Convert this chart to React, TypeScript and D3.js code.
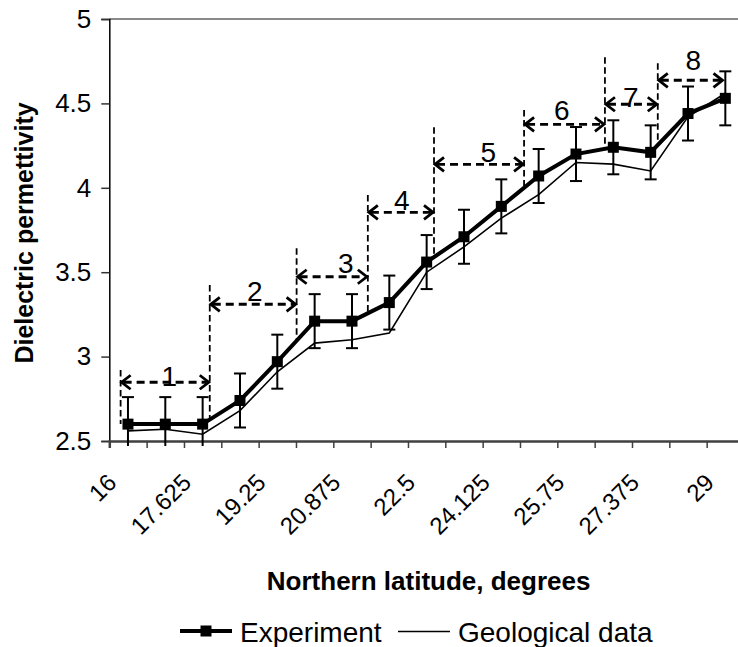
import React, { useEffect, useRef } from 'react';
import * as d3 from 'd3';

// categories (northern latitude, degrees) and tick labels shown every second category
const latitudes = [16, 16.8125, 17.625, 18.4375, 19.25, 20.0625, 20.875, 21.6875, 22.5, 23.3125, 24.125, 24.9375, 25.75, 26.5625, 27.375, 28.1875, 29];
const tickLabels = ['16', '17.625', '19.25', '20.875', '22.5', '24.125', '25.75', '27.375', '29'];
const yTicks = [2.5, 3, 3.5, 4, 4.5, 5];

// series
const experiment = [2.6, 2.6, 2.6, 2.74, 2.97, 3.21, 3.21, 3.32, 3.56, 3.71, 3.89, 4.07, 4.2, 4.24, 4.21, 4.44, 4.53];
const geological = [2.56, 2.57, 2.54, 2.68, 2.91, 3.08, 3.1, 3.14, 3.5, 3.65, 3.82, 3.96, 4.15, 4.14, 4.1, 4.42, 4.56];
const errorMargin = 0.16;

// zones 1..8 (latitude spans, arrow level, label position)
const zoneNames = ['1', '2', '3', '4', '5', '6', '7', '8'];
const zoneStart = [15.84, 17.78, 19.67, 21.22, 22.66, 24.62, 26.38, 27.53];
const zoneEnd = [17.78, 19.67, 21.22, 22.66, 24.62, 26.38, 27.53, 28.96];
const zoneArrowLevel = [2.848, 3.31, 3.473, 3.855, 4.139, 4.376, 4.495, 4.637];
const zoneLabelLat = [16.9, 18.76, 20.74, 21.96, 23.84, 25.44, 26.94, 28.3];
const zoneLabelLevel = [2.885, 3.389, 3.553, 3.928, 4.214, 4.461, 4.54, 4.757];
// dashed dividers: latitude and top value (they drop down to the experiment line)
const dividerLat = [15.84, 17.78, 19.67, 21.22, 22.66, 24.62, 26.38, 27.53];
const dividerTop = [2.92, 3.424, 3.642, 3.957, 4.358, 4.461, 4.773, 4.738];

const FONT = '"Liberation Sans", Arial, Helvetica, sans-serif';

export default function App() {
  const ref = useRef<SVGSVGElement | null>(null);

  useEffect(() => {
    drawChart();
  });

  function drawChart() {
    const width = 738;
    const height = 647;
    const left = 109.3;
    const right = 744;
    const top = 19;
    const bottom = 441;

    const svg = d3.select(ref.current);
    svg.selectAll('*').remove();

    const step = latitudes[1] - latitudes[0];
    const xScale = d3.scaleLinear()
      .domain([latitudes[0] - step / 2, latitudes[latitudes.length - 1] + step / 2])
      .range([left, right]);
    const yScale = d3.scaleLinear()
      .domain([2.5, 5])
      .range([bottom, top]);

    svg.append('rect').attr('width', width).attr('height', height).attr('fill', 'white');

    // plot border (top)
    svg.append('line')
      .attr('x1', left).attr('x2', right)
      .attr('y1', yScale(5)).attr('y2', yScale(5))
      .attr('stroke', '#8a8a8a').attr('stroke-width', 2);

    // y axis
    const yAxis = d3.axisLeft(yScale)
      .tickValues(yTicks)
      .tickSize(8)
      .tickPadding(3)
      .tickFormat((d: any) => String(d));
    const yg = svg.append('g').attr('transform', `translate(${left},0)`).call(yAxis);
    yg.select('.domain').attr('stroke', '#000').attr('stroke-width', 1.5);
    yg.selectAll('.tick line').attr('stroke', '#333').attr('stroke-width', 1.5);
    yg.selectAll('.tick text')
      .attr('font-family', FONT)
      .attr('font-size', 26)
      .attr('fill', '#000')
      .attr('x', -18);

    // x axis, ticks between categories
    const boundaries = latitudes.map(l => l - step / 2).concat([latitudes[latitudes.length - 1] + step / 2]);
    const xAxis = d3.axisBottom(xScale)
      .tickValues(boundaries)
      .tickSize(7)
      .tickFormat(() => '');
    const xg = svg.append('g').attr('transform', `translate(0,${bottom})`).call(xAxis);
    xg.select('.domain').attr('stroke', '#404040').attr('stroke-width', 2.5);
    xg.selectAll('.tick line').attr('stroke', '#404040').attr('stroke-width', 1.5);

    svg.append('g')
      .selectAll('text')
      .data(tickLabels)
      .enter()
      .append('text')
      .attr('transform', (d, i) => `translate(${xScale(latitudes[i * 2]) - 10},${bottom + 43}) rotate(-45)`)
      .attr('text-anchor', 'end')
      .attr('font-family', FONT)
      .attr('font-size', 24)
      .attr('fill', '#000')
      .text(d => d);

    // axis titles
    svg.append('text')
      .attr('transform', `translate(33,${(yScale(2.5) + yScale(5)) / 2 + 3}) rotate(-90)`)
      .attr('text-anchor', 'middle')
      .attr('font-family', FONT)
      .attr('font-weight', 'bold')
      .attr('font-size', 25)
      .text('Dielectric permettivity');

    svg.append('text')
      .attr('x', (left + right) / 2 + 2)
      .attr('y', 590)
      .attr('text-anchor', 'middle')
      .attr('font-family', FONT)
      .attr('font-weight', 'bold')
      .attr('font-size', 26)
      .text('Northern latitude, degrees');

    // experiment value at any latitude (for dividers)
    const expAt = (lat: number) => {
      if (lat <= latitudes[0]) return experiment[0];
      for (let i = 1; i < latitudes.length; i++) {
        if (lat <= latitudes[i]) {
          const t = (lat - latitudes[i - 1]) / (latitudes[i] - latitudes[i - 1]);
          return experiment[i - 1] + t * (experiment[i] - experiment[i - 1]);
        }
      }
      return experiment[experiment.length - 1];
    };

    // dashed dividers
    svg.append('g')
      .selectAll('line')
      .data(dividerLat)
      .enter()
      .append('line')
      .attr('x1', d => xScale(d)).attr('x2', d => xScale(d))
      .attr('y1', (d, i) => yScale(dividerTop[i]))
      .attr('y2', d => yScale(expAt(d)))
      .attr('stroke', '#000')
      .attr('stroke-width', 1.8)
      .attr('stroke-dasharray', '6.5,3.5');

    // dashed double arrows
    const arrows = svg.append('g');
    zoneNames.forEach((name, i) => {
      const x0 = xScale(zoneStart[i]);
      const x1 = xScale(zoneEnd[i]);
      const y = yScale(zoneArrowLevel[i]);
      arrows.append('line')
        .attr('x1', x0 + 3).attr('x2', x1 - 3)
        .attr('y1', y).attr('y2', y)
        .attr('stroke', '#000')
        .attr('stroke-width', 2.8)
        .attr('stroke-dasharray', '8,5');
      arrows.append('path')
        .attr('d', `M${x0 + 10},${y - 7}L${x0 + 1},${y}L${x0 + 10},${y + 7}`)
        .attr('fill', 'none').attr('stroke', '#000').attr('stroke-width', 2.8);
      arrows.append('path')
        .attr('d', `M${x1 - 10},${y - 7}L${x1 - 1},${y}L${x1 - 10},${y + 7}`)
        .attr('fill', 'none').attr('stroke', '#000').attr('stroke-width', 2.8);
      arrows.append('text')
        .attr('x', xScale(zoneLabelLat[i]))
        .attr('y', yScale(zoneLabelLevel[i]))
        .attr('dy', '0.36em')
        .attr('text-anchor', 'middle')
        .attr('font-family', FONT)
        .attr('font-size', 28)
        .text(name);
    });

    // clip for error bars below axis
    svg.append('clipPath').attr('id', 'plot-clip')
      .append('rect')
      .attr('x', 0).attr('y', 0)
      .attr('width', width).attr('height', bottom + 5);

    const line = d3.line<number>()
      .x((d, i) => xScale(latitudes[i]))
      .y(d => yScale(d));

    // geological data
    svg.append('path')
      .datum(geological)
      .attr('d', line)
      .attr('fill', 'none')
      .attr('stroke', '#000')
      .attr('stroke-width', 1.6);

    // error bars
    const eb = svg.append('g').attr('clip-path', 'url(#plot-clip)');
    experiment.forEach((v, i) => {
      const x = xScale(latitudes[i]);
      eb.append('line')
        .attr('x1', x).attr('x2', x)
        .attr('y1', yScale(v + errorMargin)).attr('y2', yScale(v - errorMargin))
        .attr('stroke', '#000').attr('stroke-width', 2);
      [v + errorMargin, v - errorMargin].forEach(e => {
        eb.append('line')
          .attr('x1', x - 6).attr('x2', x + 6)
          .attr('y1', yScale(e)).attr('y2', yScale(e))
          .attr('stroke', '#000').attr('stroke-width', 2);
      });
    });

    // experiment
    svg.append('path')
      .datum(experiment)
      .attr('d', line)
      .attr('fill', 'none')
      .attr('stroke', '#000')
      .attr('stroke-width', 4);

    svg.append('g')
      .selectAll('rect')
      .data(experiment)
      .enter()
      .append('rect')
      .attr('x', (d, i) => xScale(latitudes[i]) - 5.5)
      .attr('y', d => yScale(d) - 5.5)
      .attr('width', 11)
      .attr('height', 11)
      .attr('fill', '#000');

    // legend
    const lg = svg.append('g');
    const ly = 631;
    lg.append('line')
      .attr('x1', 180).attr('x2', 232).attr('y1', ly).attr('y2', ly)
      .attr('stroke', '#000').attr('stroke-width', 4);
    lg.append('rect')
      .attr('x', 206 - 5.5).attr('y', ly - 5.5).attr('width', 11).attr('height', 11)
      .attr('fill', '#000');
    lg.append('text')
      .attr('x', 240).attr('y', ly + 11)
      .attr('font-family', FONT).attr('font-size', 28)
      .text('Experiment');
    lg.append('line')
      .attr('x1', 398).attr('x2', 450).attr('y1', ly + 0.5).attr('y2', ly + 0.5)
      .attr('stroke', '#000').attr('stroke-width', 1.6);
    lg.append('text')
      .attr('x', 458).attr('y', ly + 11)
      .attr('font-family', FONT).attr('font-size', 28)
      .text('Geological data');
  }

  return (
    <svg
      ref={ref}
      width={738}
      height={647}
      style={{ position: 'absolute', left: 0, top: 0, display: 'block' }}
    />
  );
}
